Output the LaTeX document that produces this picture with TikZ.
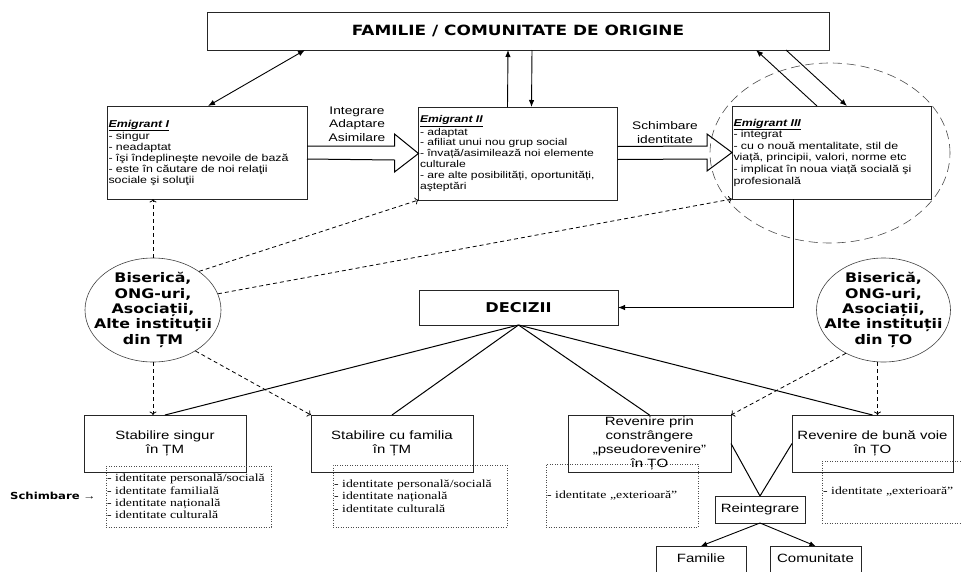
\documentclass[tikz,border=0pt]{standalone}
\usepackage{fontspec}
\setmainfont{Liberation Sans}[FakeStretch=1.25]
\newfontfamily\serifx{Liberation Serif}[FakeStretch=1.25]
\newfontfamily\blackf{DejaVu Sans}[FakeStretch=1.2]
\newfontfamily\emf{Liberation Sans}[FakeStretch=1.24]
\newcommand\emfontx{\emf\fontsize{10}{10.9}\selectfont}
\newcommand\orgfontx{\blackf\bfseries\fontsize{13.2}{15.4}\selectfont}
\usetikzlibrary{arrows.meta,calc,shapes.geometric}
\begin{document}
\begin{tikzpicture}[x=1pt,y=-1pt,
  box/.style={draw=black!85, line width=0.8pt, inner sep=0pt, outer sep=0pt},
  emig/.style={box, text width=#1, inner xsep=1.5pt, minimum height=93pt, align=left},
  lowbox/.style={box, minimum width=#1, minimum height=57pt, align=center,
    font=\fontsize{12}{13.8}\selectfont},
  dotbox/.style={draw=black!70, line width=0.9pt, dash pattern=on 0.9pt off 1.6pt,
    inner xsep=1pt, inner ysep=0pt, outer sep=0pt, align=left,
    font=\serifx\fontsize{11}{12.4}\selectfont},
  org/.style={ellipse, draw=black!75, line width=0.6pt, inner sep=0pt,
    minimum width=136pt, minimum height=104pt},
  orgtext/.style={align=center, inner sep=0pt, font=\orgfontx},
  solidarr/.style={line width=0.9pt, -{Latex[length=7pt,width=5.5pt]}},
  dasharr/.style={line width=0.8pt, dash pattern=on 4pt off 3pt, -{To[length=3.5pt,width=7pt]}},
  plain/.style={line width=1pt},
  hollow/.style={line width=1pt, line join=miter}
]
\useasboundingbox (0,0) rectangle (962,571);
\clip (0,0) rectangle (962,571);

% top
\node[box, minimum width=622pt, minimum height=38pt,
  font=\blackf\bfseries\fontsize{14.1}{16}\selectfont] (top) at (518,31) {FAMILIE / COMUNITATE DE ORIGINE};

% emigrant boxes
\node[emig=197pt, font=\emfontx] (e1) at (207,152.5) {\underline{\textbf{\textit{Emigrant I}}}\\
- singur\\
- neadaptat\\
- îşi îndeplineşte nevoile de bază\\
- este în căutare de noi relaţii\\
sociale şi soluţii};
\node[emig=196pt, font=\emf\fontsize{9.8}{10.8}\selectfont] (e2) at (518,153.5) {\underline{\textbf{\textit{Emigrant II}}}\\
- adaptat\\
- afiliat unui nou grup social\\
- învață/asimilează noi elemente\\
culturale\\
- are alte posibilități, oportunități,\\
aşteptări};
\node[emig=196pt, font=\emf\fontsize{10}{11.6}\selectfont] (e3) at (831.5,152.5) {\underline{\textbf{\textit{Emigrant III}}}\\
- integrat\\
- cu o nouă mentalitate, stil de\\
viață, principii, valori, norme etc\\
- implicat în noua viață socială şi\\
profesională};

% dashed halo around Emigrant III
\node[ellipse, draw=black!70, line width=0.6pt, dash pattern=on 9pt off 5pt,
  minimum width=240pt, minimum height=180pt, inner sep=0pt] (halo) at (830,153) {};

% labels of hollow arrows
\node[align=center, font=\fontsize{11}{13.3}\selectfont] (lab1) at (357,124) {Integrare\\Adaptare\\Asimilare};
\node[align=center, font=\fontsize{11}{13.3}\selectfont] (lab2) at (665,132.5) {Schimbare\\identitate};

% hollow arrows
\draw[hollow] ($(e1.east)+(0,-6.5)$) -- ($(e2.west)+(-24,-7.5)$) -- ($(e2.west)+(-24,-19.5)$)
  -- (e2.west) -- ($(e2.west)+(-24,18.5)$) -- ($(e2.west)+(-24,6.5)$) -- ($(e1.east)+(0,6.5)$);
\draw[hollow] ($(e2.east)+(0,-7)$) -- ($(e3.west)+(-25,-6.5)$) -- ($(e3.west)+(-25,-18.5)$)
  -- (e3.west) -- ($(e3.west)+(-25,18.5)$) -- ($(e3.west)+(-25,6.5)$) -- ($(e2.east)+(0,6)$);

% arrows with the top box
\draw[solidarr, {Latex[length=7pt,width=5.5pt]}-{Latex[length=7pt,width=5.5pt]}]
  ($(e1.north west)+(101,0)$) -- ($(top.south west)+(98,0)$);
\draw[solidarr] ($(e2.north west)+(89,0)$) -- ($(top.south west)+(301,0)$);
\draw[solidarr] ($(top.south west)+(325,0)$) -- ($(e2.north west)+(113,0)$);
\draw[solidarr] ($(e3.north west)+(85,0)$) -- ($(top.south west)+(549,0)$);
\draw[solidarr] ($(top.south west)+(579,0)$) -- ($(e3.north west)+(115,0)$);

% organisations
\node[org] (cl) at (153,310) {};
\node[orgtext] (clt) at (cl.center) {Biserică,\\ONG-uri,\\Asociații,\\Alte instituții\\din ȚM};
\node[org, minimum width=134pt] (cr) at (883.5,310) {};
\node[orgtext] (crt) at (cr.center) {Biserică,\\ONG-uri,\\Asociații,\\Alte instituții\\din ȚO};

% decisions
\node[box, minimum width=199pt, minimum height=35pt,
  font=\blackf\bfseries\fontsize{13.5}{15}\selectfont] (dec) at (518.5,307.5) {DECIZII};
\draw[solidarr] ($(e3.south west)+(61,0)$) |- (dec.east);

% lower boxes
\node[lowbox=162pt] (s1) at (165,443.5) {Stabilire singur\\în ȚM};
\node[lowbox=162pt] (s2) at (392,443.5) {Stabilire cu familia\\în ȚM};
\node[lowbox=163pt] (r1) at (649.5,443.5) {Revenire prin\\constrângere\\„pseudorevenire”\\în ȚO};
\node[lowbox=161pt] (r2) at (872.5,443.5) {Revenire de bună voie\\în ȚO};

\foreach \t in {s1,s2,r1,r2} \draw[plain] (dec.south) -- (\t.north);

% dotted identity boxes
\node[dotbox, text width=163pt, minimum height=61pt, anchor=north west] (d1) at (106,466)
  {- identitate personală/socială\\- identitate familială\\- identitate națională\\- identitate culturală};
\node[dotbox, text width=172pt, minimum height=62pt, anchor=north west] (d2) at (333,465)
  {- identitate personală/socială\\- identitate națională\\- identitate culturală};
\node[dotbox, text width=150pt, minimum height=63pt, anchor=north west] (d3) at (546,464)
  {- identitate „exterioară”};
\node[dotbox, text width=140pt, minimum height=62pt, anchor=north west] (d4) at (822,461)
  {- identitate „exterioară”};

\node[anchor=west, inner sep=0pt, font=\fontsize{10}{12}\selectfont] (sch) at (10,496)
  {{\blackf\bfseries\fontsize{9.7}{11}\selectfont Schimbare} →};

% reintegration
\node[box, minimum width=90pt, minimum height=27pt, font=\fontsize{12}{14}\selectfont] (ri) at (760,509.5) {Reintegrare};
\draw[plain] (r1.east) -- (ri.north);
\draw[plain] (r2.west) -- (ri.north);
\node[box, minimum width=90pt, minimum height=44pt, font=\fontsize{12}{14}\selectfont,
  text depth=20pt] (fam) at (701,568) {Familie};
\node[box, minimum width=91pt, minimum height=44pt, font=\fontsize{12}{14}\selectfont,
  text depth=20pt] (com) at (815.5,568) {Comunitate};
\draw[solidarr, -{Latex[length=6pt,width=5pt]}] (ri.south) -- (fam.north);
\draw[solidarr, -{Latex[length=6pt,width=5pt]}] (ri.south) -- (com.north);

% dashed influence arrows
\draw[dasharr] (cl.north) -- (cl.north |- e1.south);
\draw[dasharr] (cl.40) -- (e2.south west);
\draw[dasharr] (cl.14) -- (e3.south west);
\draw[dasharr] (cl.south) -- (cl.south |- s1.north);
\draw[dasharr] (cl.-44) -- (s2.north west);
\draw[dasharr] (cr.229) -- (r1.north east);
\draw[dasharr] ($(cr.south)+(-6,0)$) -- ($(cr.south |- r2.north)+(-6,0)$);
\end{tikzpicture}
\end{document}
